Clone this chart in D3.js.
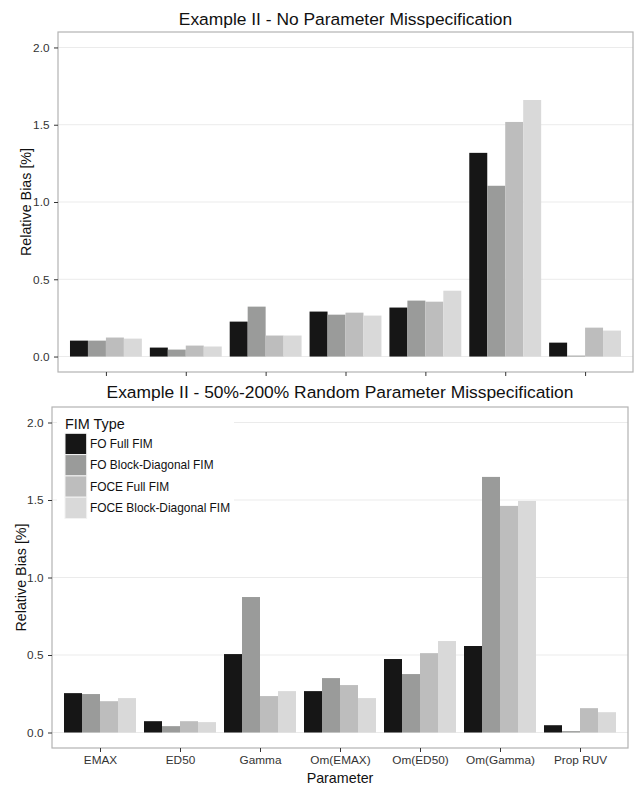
<!DOCTYPE html>
<html><head><meta charset="utf-8">
<script src="https://cdn.jsdelivr.net/npm/d3@7"></script>
<style>body{margin:0;background:#fff}svg{display:block}text{font-family:"Liberation Sans",Arial,sans-serif}</style>
</head><body><svg id="c" width="635" height="785"></svg>
<script>
const categories = ["EMAX","ED50","Gamma","Om(EMAX)","Om(ED50)","Om(Gamma)","Prop RUV"];
const fimTypes = ["FO Full FIM","FO Block-Diagonal FIM","FOCE Full FIM","FOCE Block-Diagonal FIM"];
const colors = ["#161616","#9a9b9a","#bdbdbd","#d9d9d9"];
const yTicks = [0,0.5,1,1.5,2];
const titles = ["Example II - No Parameter Misspecification","Example II - 50%-200% Random Parameter Misspecification"];
// values per FIM type, for categories in order
const noMisFOFull   = [0.103,0.058,0.226,0.291,0.317,1.318,0.090];
const noMisFOBlock  = [0.103,0.045,0.323,0.271,0.362,1.105,0.006];
const noMisFOCEFull = [0.123,0.071,0.136,0.284,0.355,1.518,0.187];
const noMisFOCEBlock= [0.116,0.065,0.136,0.265,0.426,1.660,0.168];
const randFOFull    = [0.254,0.073,0.506,0.267,0.474,0.558,0.047];
const randFOBlock   = [0.248,0.041,0.874,0.351,0.377,1.649,0.009];
const randFOCEFull  = [0.202,0.073,0.235,0.306,0.512,1.462,0.157];
const randFOCEBlock = [0.222,0.067,0.267,0.222,0.590,1.494,0.131];

const panels = [
  {title:titles[0], series:[noMisFOFull,noMisFOBlock,noMisFOCEFull,noMisFOCEBlock],
   left:58, right:633, top:32, bottom:372, titleY:24.5, yTitleX:26, xLabels:false, legend:false},
  {title:titles[1], series:[randFOFull,randFOBlock,randFOCEFull,randFOCEBlock],
   left:52, right:628, top:407, bottom:748, titleY:398, yTitleX:21, xLabels:true, legend:true}
];
const svg = d3.select("#c");
panels.forEach(p=>{
  const g = svg.append("g");
  // ggplot: expand 0.6 units, bar width 0.9
  const step = (p.right-p.left)/(categories.length-1+1.2);
  const xc = d3.scalePoint().domain(categories).range([p.left+0.6*step, p.right-0.6*step]);
  const y = d3.scaleLinear().domain([-0.1,2.1]).range([p.bottom,p.top]);
  const xs = d3.scaleBand().domain(d3.range(4)).range([-0.45*step,0.45*step]);
  // gridlines
  g.selectAll("line.grid").data(yTicks).join("line")
    .attr("x1",p.left).attr("x2",p.right).attr("y1",d=>y(d)).attr("y2",d=>y(d))
    .attr("stroke","#ebebeb").attr("stroke-width",1);
  // bars
  p.series.forEach((s,i)=>{
    g.selectAll(null).data(s).join("rect")
      .attr("x",(d,j)=>xc(categories[j])+xs(i))
      .attr("width",xs.bandwidth())
      .attr("y",d=>y(d)).attr("height",d=>y(0)-y(d))
      .attr("fill",colors[i]);
  });
  // border
  g.append("rect").attr("x",p.left).attr("y",p.top).attr("width",p.right-p.left).attr("height",p.bottom-p.top)
    .attr("fill","none").attr("stroke","#b3b3b3").attr("stroke-width",1.2);
  // y axis
  const ya = g.append("g").attr("transform",`translate(${p.left},0)`)
    .call(d3.axisLeft(y).tickValues(yTicks).tickSize(4).tickPadding(4.5).tickFormat(d3.format(".1f")));
  ya.select(".domain").remove();
  ya.selectAll(".tick line").attr("stroke","#333");
  ya.selectAll("text").attr("font-size",11.8).attr("fill","#333");
  // x axis
  const xa = g.append("g").attr("transform",`translate(0,${p.bottom})`)
    .call(d3.axisBottom(xc).tickSize(4).tickPadding(4).tickFormat(p.xLabels?(d=>d):(()=>"")));
  xa.select(".domain").remove();
  xa.selectAll(".tick line").attr("stroke","#333");
  xa.selectAll("text").attr("font-size",11.8).attr("fill","#333");
  // title
  g.append("text").attr("x",(p.left+p.right)/2).attr("y",p.titleY).attr("text-anchor","middle")
    .attr("font-size",17.4).attr("fill","#111").text(p.title);
  // y title
  g.append("text").attr("transform",`translate(${p.yTitleX},${(p.top+p.bottom)/2}) rotate(-90)`)
    .attr("text-anchor","middle").attr("dy","0.35em").attr("font-size",14.3).attr("fill","#111").text("Relative Bias [%]");
  if(p.xLabels){
    g.append("text").attr("x",(p.left+p.right)/2).attr("y",783).attr("text-anchor","middle")
      .attr("font-size",14.3).attr("fill","#111").text("Parameter");
  }
  if(p.legend){
    const L = g.append("g");
    L.append("rect").attr("x",57).attr("y",412).attr("width",177).attr("height",110).attr("fill","#fff");
    L.append("text").attr("x",65).attr("y",429).attr("font-size",14.4).attr("fill","#111").text("FIM Type");
    fimTypes.forEach((t,i)=>{
      const ky = 433.3 + i*21.3;
      L.append("rect").attr("x",65).attr("y",ky).attr("width",21.7).attr("height",21.3)
        .attr("fill",colors[i]).attr("stroke","#f2f2f2").attr("stroke-width",1);
      L.append("text").attr("x",90).attr("y",ky+10.65).attr("dy","0.35em").attr("font-size",11.9)
        .attr("fill","#111").text(t);
    });
  }
});
</script></body></html>
